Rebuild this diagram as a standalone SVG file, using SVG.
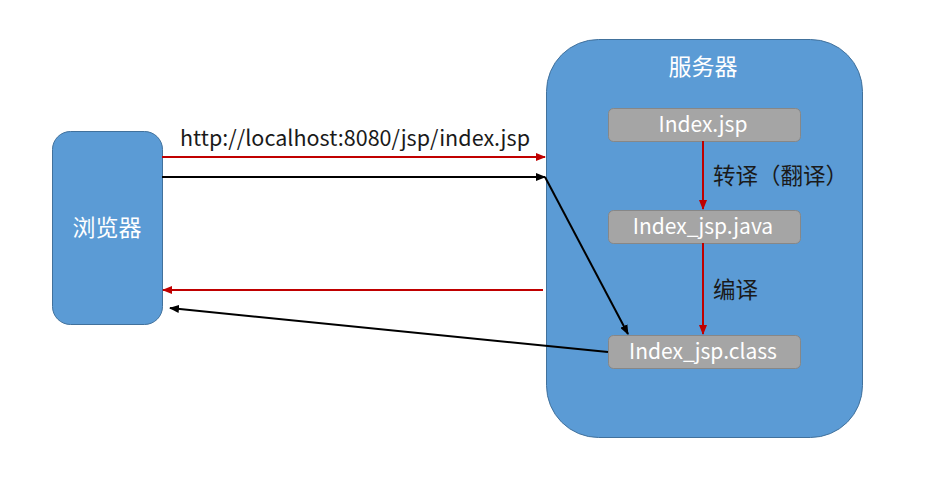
<svg xmlns="http://www.w3.org/2000/svg" width="925" height="490" viewBox="0 0 925 490">
<defs>
<style>
.blue{fill:#5B9BD5;stroke:#41719C;stroke-width:1}
.gray{fill:#A5A5A5;stroke:#878787;stroke-width:1}
.wt{fill:#FFFFFF;font-family:"Noto Sans CJK SC","Noto Sans",sans-serif;font-size:21px;text-anchor:middle}
.wc{font-size:23px}
.bt{fill:#1A1A1A;font-family:"Noto Sans CJK SC","Noto Sans",sans-serif;font-size:22.5px}
.url{font-size:21.5px}
.red{stroke:#C00000;stroke-width:2;fill:none}
.blk{stroke:#000000;stroke-width:2;fill:none}
</style>
<marker id="ar" markerWidth="10" markerHeight="8" refX="9" refY="4" orient="auto" markerUnits="userSpaceOnUse"><path d="M0,0 L10,4 L0,8 Z" fill="#C00000"/></marker>
<marker id="ab" markerWidth="10" markerHeight="8" refX="9" refY="4" orient="auto" markerUnits="userSpaceOnUse"><path d="M0,0 L10,4 L0,8 Z" fill="#000000"/></marker>
</defs>
<rect width="925" height="490" fill="#FFFFFF"/>
<g id="browser">
<rect class="blue" x="52.5" y="131.5" width="110" height="193" rx="18"/>
<text class="wt wc" x="107" y="236">浏览器</text>
</g>
<g id="server">
<rect class="blue" x="546.5" y="39.5" width="316" height="398" rx="52"/>
<text class="wt wc" x="703" y="75">服务器</text>
</g>
<g id="index-jsp">
<rect class="gray" x="608.5" y="108.5" width="192" height="33" rx="5"/>
<text class="wt" x="703" y="132">Index.jsp</text>
</g>
<g id="index-java">
<rect class="gray" x="608.5" y="210.5" width="192" height="33" rx="5"/>
<text class="wt" x="703" y="234">Index_jsp.java</text>
</g>
<g id="index-class">
<rect class="gray" x="608.5" y="335.5" width="192" height="33" rx="5"/>
<text class="wt" x="703" y="359">Index_jsp.class</text>
</g>
<g id="connectors">
<line class="red" x1="162" y1="157" x2="545" y2="157" marker-end="url(#ar)"/>
<line class="blk" x1="162" y1="177" x2="545" y2="177" marker-end="url(#ab)"/>
<line class="blk" x1="545" y1="177" x2="628" y2="334" marker-end="url(#ab)"/>
<line class="red" x1="543" y1="290" x2="163" y2="290" marker-end="url(#ar)"/>
<line class="blk" x1="608" y1="352" x2="170" y2="308" marker-end="url(#ab)"/>
<line class="red" x1="703" y1="141" x2="703" y2="209" marker-end="url(#ar)"/>
<line class="red" x1="703" y1="243" x2="703" y2="334" marker-end="url(#ar)"/>
<text class="bt url" x="180" y="146" textLength="350">http://localhost:8080/jsp/index.jsp</text>
<text class="bt" x="713" y="184">转译（翻译）</text>
<text class="bt" x="713" y="298">编译</text>
</g>
</svg>
